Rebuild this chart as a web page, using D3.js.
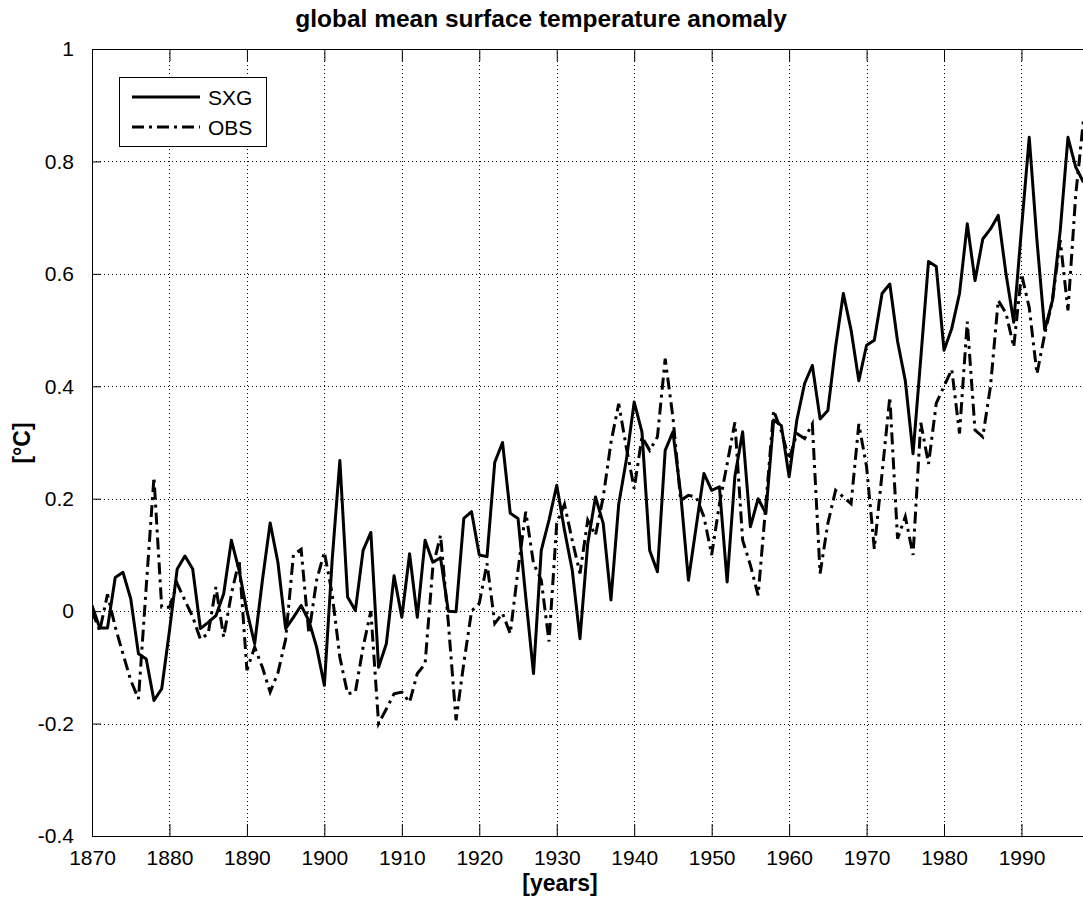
<!DOCTYPE html>
<html>
<head>
<meta charset="utf-8">
<script src="https://cdn.jsdelivr.net/npm/d3@7"></script>
<style>
  body { margin: 0; background: #fff; }
  text { font-family: "Liberation Sans", Arial, Helvetica, sans-serif; fill: #000; }
</style>
</head>
<body>
<div id="chart"></div>
<script>
// Years and series
const years = d3.range(1870, 1999);

const sxg = [
  0.01, -0.03, -0.03, 0.06, 0.069, 0.022, -0.076, -0.085, -0.159, -0.138,
  -0.035, 0.075, 0.098, 0.075, -0.031, -0.02, -0.008, 0.031, 0.126, 0.072,
  0.0, -0.058, 0.055, 0.157, 0.087, -0.031, -0.011, 0.01, -0.017, -0.064,
  -0.132, 0.09, 0.268, 0.025, 0.001, 0.108, 0.14, -0.1, -0.058, 0.063,
  -0.011, 0.102, -0.011, 0.126, 0.087, 0.095, 0.0, -0.001, 0.165, 0.177,
  0.1, 0.097, 0.265, 0.3, 0.174, 0.165, 0.025, -0.111, 0.108, 0.162,
  0.224, 0.144, 0.073, -0.049, 0.12, 0.203, 0.156, 0.02, 0.19, 0.27,
  0.372, 0.319, 0.108, 0.07, 0.286, 0.319, 0.209, 0.055, 0.15, 0.245,
  0.215, 0.221, 0.052, 0.24, 0.319, 0.15, 0.2, 0.174, 0.34, 0.33,
  0.239, 0.34, 0.405, 0.437, 0.342, 0.357, 0.47, 0.565, 0.5, 0.41,
  0.473, 0.482, 0.565, 0.582, 0.48, 0.41, 0.28, 0.45, 0.622, 0.613,
  0.464, 0.503, 0.565, 0.689, 0.588, 0.662, 0.68, 0.704, 0.6, 0.514,
  0.68, 0.843, 0.659, 0.5, 0.553, 0.677, 0.843, 0.79, 0.763
];

const obs = [
  0.0, -0.035, 0.03, -0.028, -0.076, -0.123, -0.156, 0.043, 0.238, 0.007,
  0.007, 0.049, 0.019, -0.01, -0.05, -0.04, 0.043, -0.046, 0.031, 0.09,
  -0.105, -0.064, -0.1, -0.144, -0.11, -0.05, 0.1, 0.11, -0.04, 0.055,
  0.105, 0.031, -0.082, -0.147, -0.144, -0.064, 0.0, -0.2, -0.174, -0.147,
  -0.144, -0.162, -0.111, -0.094, 0.078, 0.135, -0.02, -0.194, -0.093, 0.0,
  0.014, 0.085, -0.022, -0.004, -0.04, 0.073, 0.177, 0.085, 0.055, -0.054,
  0.156, 0.19, 0.126, 0.067, 0.162, 0.135, 0.203, 0.3, 0.369, 0.29,
  0.218, 0.31, 0.286, 0.31, 0.449, 0.345, 0.197, 0.206, 0.203, 0.168,
  0.1, 0.19, 0.262, 0.336, 0.126, 0.082, 0.028, 0.19, 0.357, 0.32,
  0.27, 0.316, 0.307, 0.333, 0.067, 0.156, 0.215, 0.203, 0.191, 0.333,
  0.257, 0.111, 0.245, 0.381, 0.129, 0.168, 0.1, 0.335, 0.262, 0.37,
  0.4, 0.43, 0.316, 0.515, 0.322, 0.31, 0.4, 0.553, 0.53, 0.47,
  0.6, 0.54, 0.422, 0.493, 0.553, 0.66, 0.535, 0.74, 0.873
];

const xTicks = [1870, 1880, 1890, 1900, 1910, 1920, 1930, 1940, 1950, 1960, 1970, 1980, 1990];
const yTicks = [-0.4, -0.2, 0, 0.2, 0.4, 0.6, 0.8, 1];

// Set graph margins and dimensions
const margin = { top: 49, right: 0, bottom: 66, left: 92 },
  width = 1083 - margin.left - margin.right + 2,
  height = 902 - margin.top - margin.bottom;

// Set ranges
const x = d3.scaleLinear().domain([1870, 1998.2]).range([0, width]);
const y = d3.scaleLinear().domain([-0.4, 1]).range([height, 0]);

const svg = d3.select("#chart").append("svg")
  .attr("width", 1083)
  .attr("height", 902)
  .style("display", "block");

svg.append("rect").attr("width", 1083).attr("height", 902).attr("fill", "#fff");

const g = svg.append("g")
  .attr("transform", "translate(" + margin.left + "," + margin.top + ")");

g.append("clipPath").attr("id", "clip")
  .append("rect").attr("width", width).attr("height", height);

// Dotted grid
g.append("g").selectAll("line")
  .data(xTicks.slice(1))
  .enter().append("line")
  .attr("x1", d => Math.round(x(d)) + 0.5).attr("x2", d => Math.round(x(d)) + 0.5)
  .attr("y1", 0).attr("y2", height)
  .attr("stroke", "#000").attr("stroke-width", 1)
  .attr("stroke-dasharray", "1,3");

g.append("g").selectAll("line")
  .data(yTicks.slice(1, -1))
  .enter().append("line")
  .attr("y1", d => Math.round(y(d)) + 0.5).attr("y2", d => Math.round(y(d)) + 0.5)
  .attr("x1", 0).attr("x2", width)
  .attr("stroke", "#000").attr("stroke-width", 1)
  .attr("stroke-dasharray", "1,3");

// Lines
const line = series => d3.line()
  .x((d, i) => x(years[i]))
  .y(d => y(d))(series);

const plot = g.append("g").attr("clip-path", "url(#clip)");

plot.append("path")
  .attr("d", line(obs))
  .attr("fill", "none").attr("stroke", "#000")
  .attr("stroke-width", 3)
  .attr("stroke-dasharray", "12,5,3,5");

plot.append("path")
  .attr("d", line(sxg))
  .attr("fill", "none").attr("stroke", "#000")
  .attr("stroke-width", 3)
  .attr("stroke-linejoin", "round");

// Axes (ticks inside, mirrored on top)
g.append("g")
  .attr("transform", "translate(0," + height + ")")
  .call(d3.axisBottom(x).tickValues(xTicks).tickFormat(d => String(d)).tickSizeInner(-12).tickSizeOuter(0).tickPadding(14))
  .call(a => a.selectAll("text").attr("font-size", 21).attr("font-family", "Liberation Sans, Arial, sans-serif"));

g.append("g")
  .call(d3.axisTop(x).tickValues(xTicks).tickFormat("").tickSizeInner(-12).tickSizeOuter(0));

g.append("g")
  .call(d3.axisLeft(y).tickValues(yTicks).tickFormat(d => String(d)).tickSizeInner(-9).tickSizeOuter(0).tickPadding(18))
  .call(a => a.selectAll("text").attr("font-size", 21).attr("font-family", "Liberation Sans, Arial, sans-serif"));

g.selectAll(".domain, .tick line").attr("stroke", "#000");

// Title and labels
svg.append("text")
  .attr("x", 541).attr("y", 27)
  .attr("text-anchor", "middle")
  .attr("font-size", 24.5).attr("font-weight", "bold")
  .text("global mean surface temperature anomaly");

svg.append("text")
  .attr("x", 560).attr("y", 891)
  .attr("text-anchor", "middle")
  .attr("font-size", 23).attr("font-weight", "bold")
  .text("[years]");

svg.append("text")
  .attr("transform", "translate(30,443) rotate(-90)")
  .attr("text-anchor", "middle")
  .attr("font-size", 23).attr("font-weight", "bold")
  .text("[°C]");

// Legend
const legend = svg.append("g");
legend.append("rect")
  .attr("x", 119.5).attr("y", 77.5).attr("width", 147).attr("height", 69)
  .attr("fill", "#fff").attr("stroke", "#000");

const legendItems = [
  { name: "SXG", dash: null, y: 97 },
  { name: "OBS", dash: "12,5,3,5", y: 127 }
];

legendItems.forEach(d => {
  legend.append("line")
    .attr("x1", 132).attr("x2", 200).attr("y1", d.y).attr("y2", d.y)
    .attr("stroke", "#000").attr("stroke-width", 3)
    .attr("stroke-dasharray", d.dash);
  legend.append("text")
    .attr("x", 208).attr("y", d.y + 7.5)
    .attr("font-size", 21)
    .text(d.name);
});
</script>
</body>
</html>
